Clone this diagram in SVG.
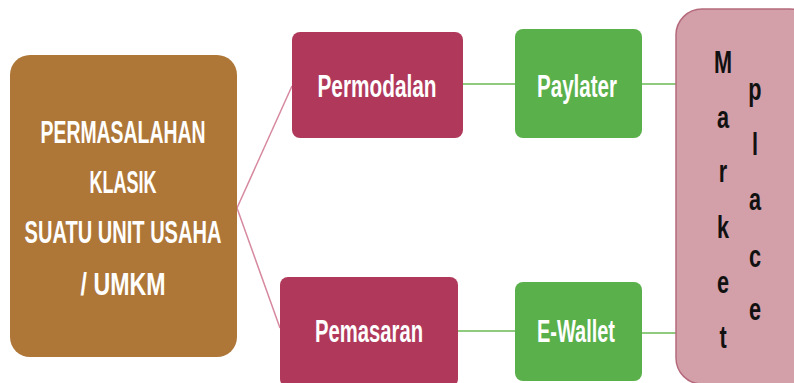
<svg xmlns="http://www.w3.org/2000/svg" width="794" height="383" viewBox="0 0 794 383">
<style>
.t{font-family:"Liberation Sans",Arial,sans-serif;font-weight:bold;fill:#ffffff;text-anchor:middle}
.m{font-family:"Liberation Sans",Arial,sans-serif;font-weight:bold;fill:#111111;text-anchor:middle;font-size:31px}
.red{fill:#B0395B}
.grn{fill:#5AB04A}
.pl{stroke:#D6889E;stroke-width:1.5;fill:none}
.gl{stroke:#8FCB7E;stroke-width:2;fill:none}
</style>
<rect width="794" height="383" fill="#ffffff"/>
<g id="connectors">
<line class="pl" x1="237" y1="208" x2="292" y2="86"/>
<line class="pl" x1="237" y1="208" x2="280" y2="328"/>
<line class="gl" x1="463" y1="84" x2="515" y2="84"/>
<line class="gl" x1="642" y1="84" x2="676" y2="84"/>
<line class="gl" x1="458" y1="331" x2="515" y2="331"/>
<line class="gl" x1="642" y1="333" x2="676" y2="333"/>
</g>
<g id="problem">
<rect x="10" y="55" width="227" height="302" rx="20" fill="#AE7738"/>
<text class="t" font-size="32" x="123" y="143" textLength="165" lengthAdjust="spacingAndGlyphs">PERMASALAHAN</text>
<text class="t" font-size="32" x="123" y="193" textLength="67" lengthAdjust="spacingAndGlyphs">KLASIK</text>
<text class="t" font-size="32" x="123" y="243" textLength="197" lengthAdjust="spacingAndGlyphs">SUATU UNIT USAHA</text>
<text class="t" font-size="32" x="123" y="295" textLength="85" lengthAdjust="spacingAndGlyphs">/ UMKM</text>
</g>
<g id="permodalan">
<rect class="red" x="292" y="32" width="171" height="106" rx="8"/>
<text class="t" font-size="31" x="377" y="97" textLength="119" lengthAdjust="spacingAndGlyphs">Permodalan</text>
</g>
<g id="pemasaran">
<rect class="red" x="280" y="277" width="178" height="110" rx="8"/>
<text class="t" font-size="31" x="369" y="342" textLength="108" lengthAdjust="spacingAndGlyphs">Pemasaran</text>
</g>
<g id="paylater">
<rect class="grn" x="515" y="29" width="127" height="109" rx="8"/>
<text class="t" font-size="31" x="577" y="97" textLength="80" lengthAdjust="spacingAndGlyphs">Paylater</text>
</g>
<g id="ewallet">
<rect class="grn" x="515" y="282" width="127" height="99" rx="8"/>
<text class="t" font-size="31" x="576" y="342" textLength="78" lengthAdjust="spacingAndGlyphs">E-Wallet</text>
</g>
<g id="marketplace">
<rect x="676" y="9" width="140" height="375" rx="26" fill="#D3A0AA" stroke="#B56A7C" stroke-width="1.5"/>
<g transform="translate(723,0) scale(0.7,1)">
<text class="m" x="0" y="73">M</text>
<text class="m" x="0" y="128">a</text>
<text class="m" x="0" y="182">r</text>
<text class="m" x="0" y="238">k</text>
<text class="m" x="0" y="293">e</text>
<text class="m" x="0" y="348">t</text>
</g>
<g transform="translate(755,0) scale(0.7,1)">
<text class="m" x="0" y="100">p</text>
<text class="m" x="0" y="155">l</text>
<text class="m" x="0" y="210">a</text>
<text class="m" x="0" y="267">c</text>
<text class="m" x="0" y="320">e</text>
</g>
</g>
</svg>
